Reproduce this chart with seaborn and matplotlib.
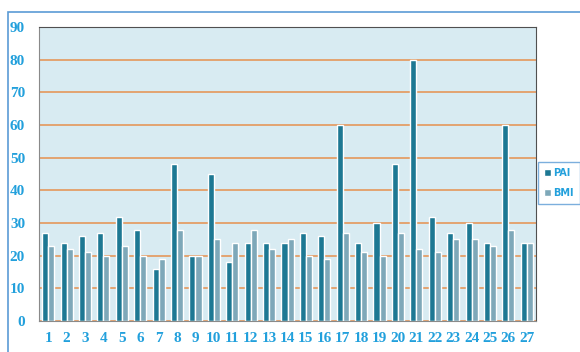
import pandas as pd
import matplotlib.pyplot as plt
import seaborn as sns
from matplotlib.patches import Rectangle

# --- data ---
groups = [str(i) for i in range(1, 28)]
pai = [27, 24, 26, 27, 32, 28, 16, 48, 20, 45, 18, 24, 24, 24, 27, 26, 60, 24, 30, 48, 80, 32, 27, 30, 24, 60, 24]
bmi = [23, 22, 21, 20, 23, 20, 19, 28, 20, 25, 24, 28, 22, 25, 20, 19, 27, 21, 20, 27, 22, 21, 25, 25, 23, 28, 24]
series_names = ['PAI', 'BMI']
y_ticks = list(range(0, 100, 10))

df = pd.DataFrame({
    'group': groups * 2,
    'value': pai + bmi,
    'series': [series_names[0]] * len(groups) + [series_names[1]] * len(groups),
})

sns.set_style('white')
plt.rcParams['font.family'] = ['Liberation Serif', 'DejaVu Serif']

label_blue = '#22a0dc'
fig = plt.figure(figsize=(5.8, 3.52), dpi=100)
ax = fig.add_axes([0.0672, 0.088, 0.8570, 0.835])

# outer chart frame
fig.patches.append(Rectangle((8 / 580, -0.1), 1.2, 1 - 12 / 352 + 0.1,
                             transform=fig.transFigure, fill=False,
                             edgecolor='#5b9bd5', linewidth=1.2))

sns.barplot(data=df, x='group', y='value', hue='series',
            palette=['#1d7893', '#7ea8b9'], width=0.66, gap=0.0,
            saturation=1, ax=ax, legend=True)

ax.set_facecolor('#d8ebf2')
ax.set_ylim(0, 90)
ax.set_yticks(y_ticks)
ax.set_xlim(-0.5, len(groups) - 0.5)
ax.yaxis.grid(True, color='#e6904e', linewidth=1.1)
ax.set_axisbelow(True)
ax.set_xlabel('')
ax.set_ylabel('')

ax.set_xticks(range(len(groups)))
ax.set_xticklabels(groups)
ax.set_xticks([i + 0.5 for i in range(-1, len(groups))], minor=True)
ax.tick_params(axis='x', which='major', length=0, pad=8)
ax.tick_params(axis='x', which='minor', length=4, direction='out', color='#808080')
ax.tick_params(axis='y', length=4, direction='out', color='#808080', pad=6)
for lab in ax.get_xticklabels() + ax.get_yticklabels():
    lab.set_color(label_blue)
    lab.set_fontweight('bold')
    lab.set_fontsize(11)

for side in ['left', 'bottom']:
    ax.spines[side].set_color('#8a8a8a')
for side in ['top', 'right']:
    ax.spines[side].set_color('#505050')

leg = ax.legend(loc='center left', bbox_to_anchor=(1.0, 0.47), frameon=True,
                handlelength=0.7, handleheight=0.7, labelspacing=1.1,
                handletextpad=0.3, borderpad=0.6, borderaxespad=0.2,
                prop={'family': 'DejaVu Sans', 'weight': 'bold', 'size': 7})
leg.get_frame().set_edgecolor('#5b9bd5')
leg.get_frame().set_linewidth(1.0)
leg.get_frame().set_boxstyle('square', pad=0)
for t in leg.get_texts():
    t.set_color(label_blue)

plt.savefig('out.png', dpi=100)
